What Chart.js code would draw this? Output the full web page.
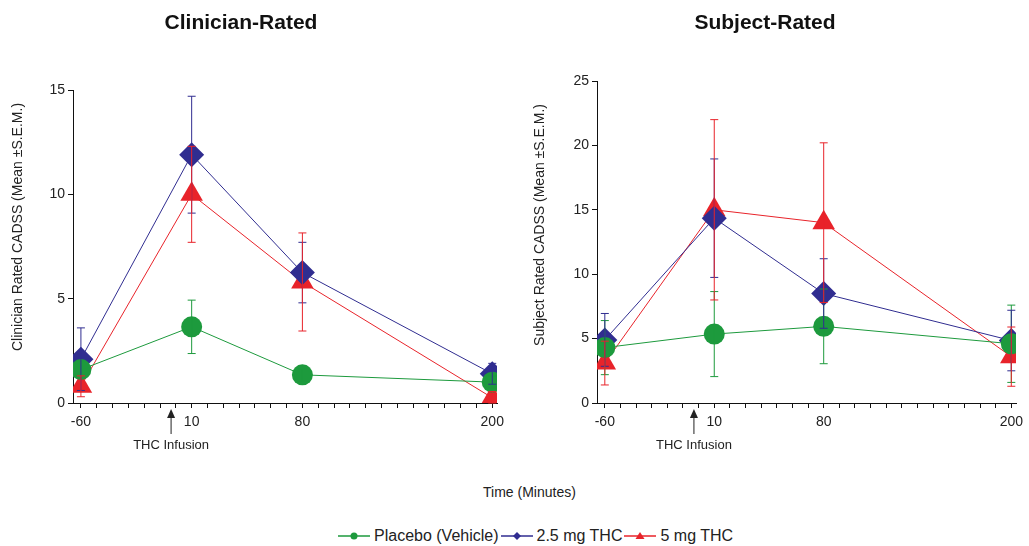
<!DOCTYPE html>
<html>
<head>
<meta charset="utf-8">
<script src="https://cdn.jsdelivr.net/npm/chart.js@4"></script>
<style>
  body { margin: 0; background: #fff; width: 1029px; height: 546px; position: relative; overflow: hidden;
         font-family: "Liberation Sans", Arial, sans-serif; color: #222; }
  .panel { position: absolute; top: 0; height: 470px; }
  #leftPanel { left: 0; width: 520px; }
  #rightPanel { left: 520px; width: 509px; }
  #xTitle { position: absolute; top: 484px; left: 483px; font-size: 14px; }
  #legend { position: absolute; top: 527px; left: 338px; display: flex; align-items: center; font-size: 16px; white-space: nowrap; }
  #legend span { margin: 0 2px 0 4px; }
  #legend svg { display: block; }
</style>
</head>
<body>
<div class="panel" id="leftPanel"><canvas id="clinChart"></canvas></div>
<div class="panel" id="rightPanel"><canvas id="subjChart"></canvas></div>
<div id="xTitle">Time (Minutes)</div>
<div id="legend"></div>
<script>
const timePoints = [-60, 10, 80, 200];
const timeLabels = ['-60', '10', '80', '200'];
const infusionTime = -3;

const seriesNames = ['Placebo (Vehicle)', '2.5 mg THC', '5 mg THC'];
const seriesColors = ['#1d9a3d', '#302d90', '#e8232a'];
const seriesMarkers = ['circle', 'rectRot', 'triangle'];
const markerSizes = [10.5, 12.5, 13];

// Clinician-rated CADSS, mean and S.E.M.
const clinPlacebo = [1.6, 3.65, 1.35, 1.0];
const clinPlaceboSem = [0.4, 1.28, 0.3, 0.3];
const clinLow = [2.1, 11.9, 6.25, 1.4];
const clinLowSem = [1.5, 2.8, 1.45, 0.5];
const clinHigh = [0.8, 10.0, 5.8, 0.25];
const clinHighSem = [0.5, 2.3, 2.35, 0.3];

// Subject-rated CADSS, mean and S.E.M.
const subjPlacebo = [4.3, 5.35, 5.95, 4.6];
const subjPlaceboSem = [2.1, 3.3, 2.9, 3.0];
const subjLow = [4.9, 14.35, 8.5, 4.85];
const subjLowSem = [2.05, 4.6, 2.7, 2.35];
const subjHigh = [3.1, 15.0, 14.0, 3.6];
const subjHighSem = [1.7, 7.0, 6.2, 2.3];

const FONT = '"Liberation Sans", Arial, sans-serif';

function makeDatasets(means, sems) {
  return means.map((vals, i) => ({
    label: seriesNames[i],
    data: timePoints.map((t, j) => ({ x: t, y: vals[j] })),
    sem: sems[i],
    borderColor: seriesColors[i],
    backgroundColor: seriesColors[i],
    borderWidth: 1,
    pointStyle: seriesMarkers[i],
    pointRadius: markerSizes[i],
    pointBorderWidth: 0,
    tension: 0
  }));
}

// vertical S.E.M. bars with caps
const errorBars = {
  id: 'errorBars',
  afterDatasetsDraw(chart) {
    const { ctx, scales } = chart;
    ctx.save();
    ctx.lineWidth = 1;
    chart.data.datasets.forEach(ds => {
      ctx.strokeStyle = ds.borderColor;
      ds.data.forEach((p, j) => {
        const x = scales.x.getPixelForValue(p.x);
        const yTop = scales.y.getPixelForValue(p.y + ds.sem[j]);
        const yBot = scales.y.getPixelForValue(Math.max(0, p.y - ds.sem[j]));
        ctx.beginPath();
        ctx.moveTo(x, yTop); ctx.lineTo(x, yBot);
        ctx.moveTo(x - 4, yTop); ctx.lineTo(x + 4, yTop);
        ctx.moveTo(x - 4, yBot); ctx.lineTo(x + 4, yBot);
        ctx.stroke();
      });
    });
    ctx.restore();
  }
};

// panel title, y axis title and the infusion arrow
const panelText = {
  id: 'panelText',
  afterDraw(chart, args, opts) {
    const { ctx, chartArea, scales } = chart;
    ctx.save();
    ctx.fillStyle = '#111';
    ctx.textAlign = 'center';
    ctx.textBaseline = 'middle';
    ctx.font = 'bold 21px ' + FONT;
    ctx.fillText(opts.title, chartArea.left + 168, 23);

    ctx.fillStyle = '#222';
    ctx.font = '13px ' + FONT;
    const ax = scales.x.getPixelForValue(infusionTime);
    ctx.fillText('THC Infusion', ax, 445);
    ctx.beginPath();
    ctx.moveTo(ax, 409); ctx.lineTo(ax - 4, 418); ctx.lineTo(ax + 4, 418);
    ctx.closePath();
    ctx.fill();
    ctx.strokeStyle = '#222';
    ctx.lineWidth = 1;
    ctx.beginPath();
    ctx.moveTo(ax, 416); ctx.lineTo(ax, 434);
    ctx.stroke();

    ctx.font = '14px ' + FONT;
    ctx.translate(opts.yTitleX, opts.yTitleY);
    ctx.rotate(-Math.PI / 2);
    ctx.fillText(opts.yTitle, 0, 0);
    ctx.restore();
  }
};

function makeChart(id, datasets, yMax, yStep, padding, yWidth, text) {
  return new Chart(document.getElementById(id).getContext('2d'), {
    type: 'line',
    data: { datasets },
    plugins: [errorBars, panelText],
    options: {
      responsive: true,
      maintainAspectRatio: false,
      animation: false,
      layout: { padding },
      plugins: {
        legend: { display: false },
        tooltip: { enabled: false },
        panelText: text
      },
      scales: {
        x: {
          type: 'linear',
          min: -65,
          max: 203,
          afterFit: s => { s.height = 67; s.paddingLeft = 0; s.paddingRight = 0; },
          grid: { drawOnChartArea: false, color: '#111', tickLength: 5 },
          border: { color: '#111', width: 1 },
          ticks: {
            stepSize: 10,
            includeBounds: false,
            autoSkip: false,
            maxRotation: 0,
            padding: 6,
            color: '#222',
            font: { family: FONT, size: 14 },
            callback: v => {
              const k = timePoints.indexOf(v);
              return k >= 0 ? timeLabels[k] : '';
            }
          }
        },
        y: {
          min: 0,
          max: yMax,
          afterFit: s => { s.width = yWidth; },
          grid: { drawOnChartArea: false, color: '#111', tickLength: 5 },
          border: { color: '#111', width: 1 },
          ticks: {
            stepSize: yStep,
            padding: 3,
            color: '#222',
            font: { family: FONT, size: 14 }
          }
        }
      }
    }
  });
}

makeChart('clinChart',
  makeDatasets([clinPlacebo, clinLow, clinHigh], [clinPlaceboSem, clinLowSem, clinHighSem]),
  15, 5, { top: 90, right: 23, left: 0, bottom: 0 }, 73,
  { title: 'Clinician-Rated', yTitle: 'Clinician Rated CADSS (Mean \u00b1S.E.M.)', yTitleX: 18, yTitleY: 227 });

makeChart('subjChart',
  makeDatasets([subjPlacebo, subjLow, subjHigh], [subjPlaceboSem, subjLowSem, subjHighSem]),
  25, 5, { top: 81, right: 6, left: 0, bottom: 0 }, 77,
  { title: 'Subject-Rated', yTitle: 'Subject Rated CADSS (Mean \u00b1S.E.M.)', yTitleX: 20, yTitleY: 225 });

// legend built from the same series arrays
const legend = document.getElementById('legend');
const markerSvg = [
  c => `<circle cx="16" cy="7" r="3.5" fill="${c}"/>`,
  c => `<polygon points="16,3 20,7 16,11 12,7" fill="${c}"/>`,
  c => `<polygon points="16,3 20.5,10 11.5,10" fill="${c}"/>`
];
seriesNames.forEach((name, i) => {
  const c = seriesColors[i];
  legend.insertAdjacentHTML('beforeend',
    `<svg width="32" height="14"><line x1="0" y1="7" x2="32" y2="7" stroke="${c}" stroke-width="1.5"/>${markerSvg[i](c)}</svg><span>${name}</span>`);
});
</script>
</body>
</html>
